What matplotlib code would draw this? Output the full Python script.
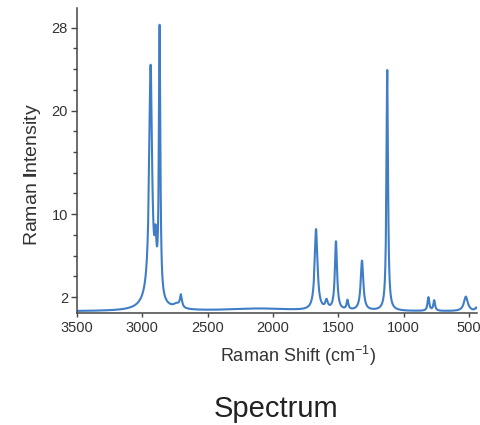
import numpy as np
import matplotlib
matplotlib.use("Agg")
import matplotlib.pyplot as plt
from matplotlib.ticker import FixedLocator, MultipleLocator

plt.rcParams["font.family"] = ["Liberation Sans", "DejaVu Sans"]
plt.rcParams["mathtext.fontset"] = "custom"
plt.rcParams["mathtext.rm"] = "Liberation Sans"
plt.rcParams["mathtext.bf"] = "Liberation Sans:bold"
plt.rcParams["mathtext.it"] = "Liberation Sans:italic"

# Raman bands: centre (cm-1), height above baseline, half width (cm-1)
band_center = [2935, 2930, 2897, 2866, 2735, 2703, 2100, 1670, 1590, 1518, 1430,
               1319, 1126, 811, 767, 525, 445]
band_height = [21.9, 1.5, 3.8, 26.0, 0.4, 1.2, 0.25, 7.8, 0.8, 6.6, 0.9,
               4.8, 23.3, 1.3, 1.0, 1.4, 0.3]
band_width = [13, 60, 8, 6.5, 30, 9, 300, 13, 11, 10, 8,
              12, 7, 8, 8, 18, 10]
baseline_level = 0.62

shift_range = (3500, 440)
x_ticks = [3500, 3000, 2500, 2000, 1500, 1000, 500]
y_ticks = [2, 10, 20, 28]

shift = np.linspace(shift_range[1], shift_range[0], 4000)
intensity = np.full_like(shift, baseline_level)
for c, h, w in zip(band_center, band_height, band_width):
    intensity += h / (1.0 + ((shift - c) / w) ** 2)

W, H = 481, 425
fig = plt.figure(figsize=(W / 100, H / 100), dpi=100)
ax = fig.add_axes([76.7 / W, 1 - 313 / H, (477 - 76.7) / W, (313 - 8) / H])

ax.plot(shift, intensity, color="#3f7dc6", lw=1.5)
ax.set_xlim(*shift_range)
ax.set_ylim(0.46, 29.9)

ax.xaxis.set_major_locator(FixedLocator(x_ticks))
ax.yaxis.set_major_locator(FixedLocator(y_ticks))
ax.yaxis.set_minor_locator(MultipleLocator(2))

for s in ("top", "right"):
    ax.spines[s].set_visible(False)
for s in ("left", "bottom"):
    ax.spines[s].set_color("#444444")
    ax.spines[s].set_linewidth(1.1)

ax.tick_params(axis="both", which="major", colors="#444444", labelcolor="#333333",
               labelsize=10.5, width=1.0)
ax.tick_params(axis="y", which="major", length=4.3, pad=2)
ax.tick_params(axis="y", which="minor", length=2.9, width=1.0, colors="#444444")
ax.tick_params(axis="x", which="major", length=3, pad=2.5)

fig.text(32.7 / W, 1 - 175 / H, r"Raman $\mathbf{I}$ntensity", rotation=90,
         ha="center", va="center", fontsize=14, color="#333333")
fig.text(297.5 / W, 1 - 356 / H, r"Raman Shift (cm$^{-1}$)",
         ha="center", va="center", fontsize=13, color="#333333")
fig.text(276 / W, 1 - 417 / H, "Spectrum", ha="center", va="baseline",
         fontsize=21, color="#222222")

fig.savefig("out.png", dpi=100)
